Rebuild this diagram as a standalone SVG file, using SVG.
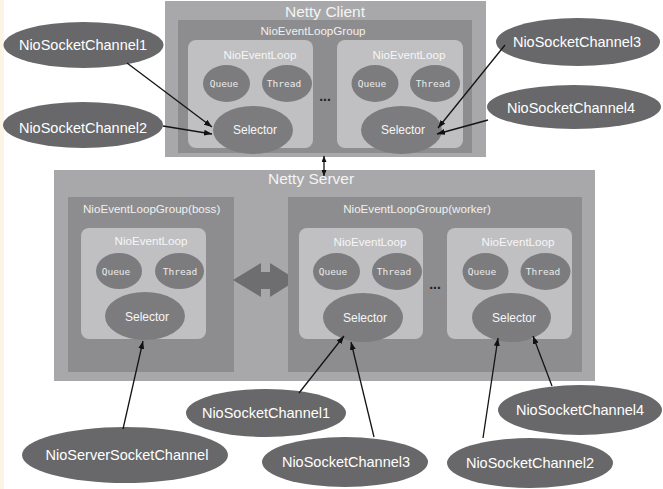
<svg xmlns="http://www.w3.org/2000/svg" width="663" height="489" viewBox="0 0 663 489">
<defs>
<style>
.outer{fill:#a8a8aa}
.group{fill:#8d8d8f}
.loop{fill:#c0c0c2}
.small{fill:#7c7c7e}
.chan{fill:#68686a}
text{font-family:"Liberation Sans",Arial,sans-serif}
.tt{font-size:15.5px;fill:#f4f4f4}
.tg{font-size:11.6px;fill:#f0f0f0}
.tl{font-size:11.6px;fill:#f6f6f6;text-anchor:middle}
.tm{font-family:"DejaVu Sans Mono",monospace;font-size:9.5px;fill:#ececec;text-anchor:middle}
.ts{font-size:12px;fill:#f6f6f6;text-anchor:middle}
.tc{font-size:14.5px;fill:#ffffff;text-anchor:middle}
.dots{font-size:14px;font-weight:bold;fill:#222;text-anchor:middle}
.conn{stroke:#141414;stroke-width:1.3;fill:none}
</style>
<marker id="ah" markerWidth="8" markerHeight="6" refX="8" refY="3" orient="auto-start-reverse" markerUnits="userSpaceOnUse">
<path d="M0,0 L8,3 L0,6 z" fill="#111"/>
</marker>
<marker id="ahs" markerWidth="6" markerHeight="5" refX="6" refY="2.5" orient="auto-start-reverse" markerUnits="userSpaceOnUse">
<path d="M0,0 L6,2.5 L0,5 z" fill="#111"/>
</marker>
</defs>
<rect x="0" y="0" width="663" height="489" fill="#ffffff"/>
<rect x="0" y="0" width="4" height="489" fill="#fcf4e4"/>

<g id="netty-client">
<rect class="outer" x="165" y="1" width="321" height="156"/>
<text class="tt" x="325" y="17" text-anchor="middle">Netty Client</text>
<rect class="group" x="178" y="20" width="294" height="133"/>
<text class="tg" x="313" y="35" text-anchor="middle">NioEventLoopGroup</text>
</g>
<g id="client-loop1">
<rect class="loop" x="188" y="40" width="125" height="108" rx="8"/>
<text class="tl" x="260" y="59">NioEventLoop</text>
<ellipse class="small" cx="226.5" cy="83.5" rx="23.5" ry="18.5"/>
<text class="tm" x="224" y="87">Queue</text>
<ellipse class="small" cx="287" cy="83.5" rx="25" ry="18.5"/>
<text class="tm" x="284" y="87">Thread</text>
<ellipse class="small" cx="253" cy="130" rx="40" ry="24"/>
<text class="ts" x="255" y="134">Selector</text>
</g>
<text class="dots" x="325" y="101">...</text>
<g id="client-loop2">
<rect class="loop" x="337" y="40" width="126" height="108" rx="8"/>
<text class="tl" x="409" y="59">NioEventLoop</text>
<ellipse class="small" cx="375" cy="83.5" rx="23.5" ry="18.5"/>
<text class="tm" x="372" y="87">Queue</text>
<ellipse class="small" cx="435" cy="83.5" rx="25" ry="18.5"/>
<text class="tm" x="433" y="87">Thread</text>
<ellipse class="small" cx="401.5" cy="130" rx="40.5" ry="24"/>
<text class="ts" x="403" y="134">Selector</text>
</g>

<g id="netty-server">
<rect class="outer" x="54" y="170" width="541" height="211"/>
<text class="tt" x="268" y="184">Netty Server</text>
</g>
<g id="boss-group">
<rect class="group" x="68" y="197" width="166" height="175"/>
<text class="tg" x="83" y="213">NioEventLoopGroup(boss)</text>
</g>
<g id="boss-loop">
<rect class="loop" x="81" y="228" width="125" height="111" rx="8"/>
<text class="tl" x="151" y="245">NioEventLoop</text>
<ellipse class="small" cx="119" cy="271" rx="23" ry="18"/>
<text class="tm" x="116" y="275">Queue</text>
<ellipse class="small" cx="179.5" cy="271" rx="24.5" ry="18"/>
<text class="tm" x="180" y="275">Thread</text>
<ellipse class="small" cx="145" cy="316" rx="40" ry="24"/>
<text class="ts" x="147" y="321">Selector</text>
</g>
<g id="boss-worker-arrow">
<polygon points="233,280 261,263 261,272 270,272 270,263 297,280 270,297 270,289 261,289 261,297" fill="#6e6e70"/>
</g>
<g id="worker-group">
<rect class="group" x="288" y="197" width="294" height="175"/>
<text class="tg" x="417" y="213" text-anchor="middle">NioEventLoopGroup(worker)</text>
</g>
<g id="worker-loop1">
<rect class="loop" x="299" y="228" width="124" height="111" rx="8"/>
<text class="tl" x="370" y="246">NioEventLoop</text>
<ellipse class="small" cx="336.5" cy="271.5" rx="23.5" ry="18.5"/>
<text class="tm" x="333" y="275">Queue</text>
<ellipse class="small" cx="397" cy="271.5" rx="25" ry="18.5"/>
<text class="tm" x="394" y="275">Thread</text>
<ellipse class="small" cx="363" cy="317.5" rx="40" ry="24.5"/>
<text class="ts" x="365" y="322">Selector</text>
</g>
<text class="dots" x="435" y="289">...</text>
<g id="worker-loop2">
<rect class="loop" x="447" y="228" width="125" height="111" rx="8"/>
<text class="tl" x="518" y="246">NioEventLoop</text>
<ellipse class="small" cx="485.5" cy="271.5" rx="23" ry="18.5"/>
<text class="tm" x="482" y="275">Queue</text>
<ellipse class="small" cx="545.5" cy="271.5" rx="25" ry="18.5"/>
<text class="tm" x="543" y="275">Thread</text>
<ellipse class="small" cx="511.5" cy="317.5" rx="39.5" ry="24.5"/>
<text class="ts" x="514" y="322">Selector</text>
</g>

<g id="c-chan1"><ellipse class="chan" cx="83.5" cy="45" rx="80" ry="23"/><text class="tc" x="83" y="49.5">NioSocketChannel1</text></g>
<g id="c-chan2"><ellipse class="chan" cx="83" cy="125" rx="80" ry="23"/><text class="tc" x="83" y="133">NioSocketChannel2</text></g>
<g id="c-chan3"><ellipse class="chan" cx="578" cy="42" rx="82" ry="24"/><text class="tc" x="577" y="47">NioSocketChannel3</text></g>
<g id="c-chan4"><ellipse class="chan" cx="574" cy="107" rx="87" ry="22"/><text class="tc" x="571" y="113">NioSocketChannel4</text></g>

<g id="s-serverchan"><ellipse class="chan" cx="125" cy="455" rx="103" ry="28"/><text class="tc" x="127" y="460">NioServerSocketChannel</text></g>
<g id="s-chan1"><ellipse class="chan" cx="266" cy="413" rx="80" ry="24"/><text class="tc" x="266" y="418">NioSocketChannel1</text></g>
<g id="s-chan3"><ellipse class="chan" cx="345" cy="462" rx="83" ry="25"/><text class="tc" x="346" y="467">NioSocketChannel3</text></g>
<g id="s-chan2"><ellipse class="chan" cx="530" cy="463" rx="83" ry="25"/><text class="tc" x="530" y="468">NioSocketChannel2</text></g>
<g id="s-chan4"><ellipse class="chan" cx="580" cy="410" rx="82" ry="25"/><text class="tc" x="580" y="415">NioSocketChannel4</text></g>

<g id="connectors">
<line class="conn" x1="324" y1="156" x2="324" y2="176" stroke-width="1.2" marker-start="url(#ahs)" marker-end="url(#ahs)"/>
<line class="conn" x1="127" y1="63" x2="212" y2="127" marker-end="url(#ah)"/>
<line class="conn" x1="163" y1="126" x2="212" y2="134" marker-end="url(#ah)"/>
<line class="conn" x1="505" y1="45" x2="438" y2="128" marker-end="url(#ah)"/>
<line class="conn" x1="488" y1="120" x2="437" y2="134" marker-end="url(#ah)"/>
<line class="conn" x1="123" y1="429" x2="143" y2="341" marker-end="url(#ah)"/>
<line class="conn" x1="299" y1="393" x2="344" y2="336" marker-end="url(#ah)"/>
<line class="conn" x1="374" y1="437" x2="351" y2="342" marker-end="url(#ah)"/>
<line class="conn" x1="483" y1="438" x2="498" y2="338" marker-end="url(#ah)"/>
<line class="conn" x1="552" y1="386" x2="533" y2="336" marker-end="url(#ah)"/>
</g>
</svg>
